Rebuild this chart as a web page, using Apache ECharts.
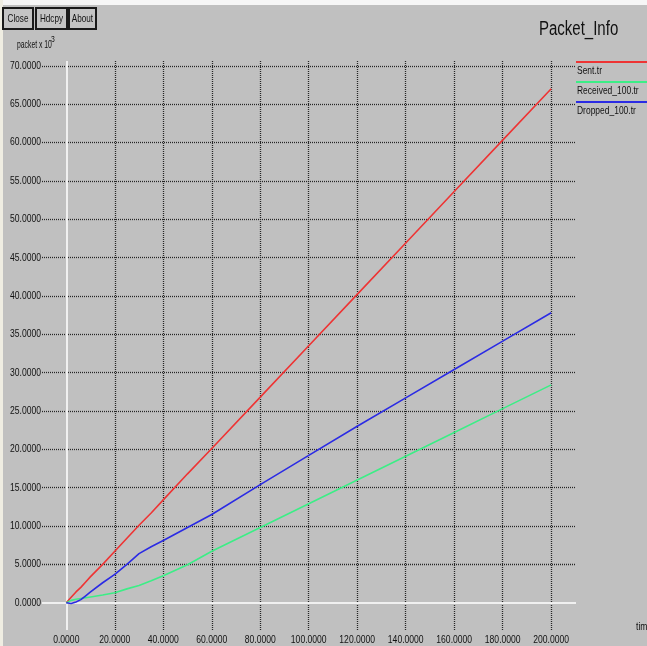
<!DOCTYPE html>
<html>
<head>
<meta charset="utf-8">
<title>Packet_Info</title>
<script src="https://cdn.jsdelivr.net/npm/echarts@6/dist/echarts.min.js"></script>
<style>
  html, body { margin: 0; padding: 0; background: #c0c0c0; }
  #chart { width: 647px; height: 646px; }
</style>
</head>
<body>
<div id="chart"></div>
<script>
// Simulation time (s) at which the packet counters were sampled
const times = [0, 2, 4, 6, 8, 10, 15, 20, 25, 30, 35, 40, 50, 60, 80, 100, 120, 140, 160, 180, 200];
// Packet counts, in thousands
const sentPackets     = [0, 0.7, 1.4, 2.0, 2.7, 3.4, 5.0, 6.7, 8.4, 10.1, 11.7, 13.4, 16.8, 20.1, 26.8, 33.5, 40.2, 46.9, 53.6, 60.3, 67.0];
const receivedPackets = [0, 0.3, 0.45, 0.55, 0.65, 0.75, 1.0, 1.3, 1.8, 2.25, 2.85, 3.5, 4.95, 6.7, 9.8, 12.9, 16.0, 19.1, 22.2, 25.3, 28.4];
const droppedPackets  = [0, -0.1, 0.1, 0.4, 0.9, 1.4, 2.6, 3.7, 5.0, 6.4, 7.3, 8.1, 9.8, 11.5, 15.4, 19.2, 23.0, 26.7, 30.4, 34.1, 37.8];

const seriesNames = ['Sent.tr', 'Received_100.tr', 'Dropped_100.tr'];
const seriesValues = [sentPackets, receivedPackets, droppedPackets];
const seriesColors = ['#ee3434', '#3cee86', '#2b2be4'];

const xTicks = [0, 20, 40, 60, 80, 100, 120, 140, 160, 180, 200];
const yTicks = [0, 5, 10, 15, 20, 25, 30, 35, 40, 45, 50, 55, 60, 65, 70];
const xAxisName = 'time';
const yAxisName = 'packet x 10';
const yAxisPower = '3';
const chartTitle = 'Packet_Info';
const buttonLabels = ['Close', 'Hdcpy', 'About'];

// Visible extent of the plotting area (gridlines run slightly past the data range)
const X_MIN = -10.02, X_MAX = 210.23;
const Y_MIN = -3.56, Y_MAX = 70.62;

// Narrow, X11-style lettering: a sans face squeezed horizontally
const FONT = "'Liberation Sans', Arial, sans-serif";
const SQUEEZE = 0.78;
const INK = '#111';

const chart = echarts.init(document.getElementById('chart'), null, { renderer: 'canvas' });

const dottedGrid = [];
yTicks.filter(v => v !== 0).forEach(v => dottedGrid.push({ yAxis: v }));
xTicks.filter(v => v !== 0).forEach(v => dottedGrid.push({ xAxis: v }));

const dataSeries = seriesNames.map((name, i) => ({
  name: name,
  type: 'line',
  data: times.map((t, k) => [t, seriesValues[i][k]]),
  showSymbol: false,
  symbol: 'none',
  smooth: false,
  z: 5,
  lineStyle: { color: seriesColors[i], width: 1.6 },
  itemStyle: { color: seriesColors[i] }
}));

const guideSeries = (z, lineStyle, data) => ({
  type: 'line', data: [[0, 0]], symbol: 'none', z: z,
  lineStyle: { opacity: 0 },
  silent: true,
  markLine: {
    silent: true, symbol: ['none', 'none'], animation: false,
    label: { show: false },
    emphasis: { disabled: true },
    lineStyle: lineStyle,
    data: data
  }
});

const hiddenAxis = (min, max) => ({
  type: 'value', min: min, max: max,
  axisLine: { show: false },
  axisTick: { show: false },
  splitLine: { show: false },
  axisLabel: { show: false }
});

chart.setOption({
  backgroundColor: '#c0c0c0',
  animation: false,
  grid: { left: 42, right: 71, top: 61, bottom: 16, outerBoundsMode: 'none' },
  xAxis: hiddenAxis(X_MIN, X_MAX),
  yAxis: hiddenAxis(Y_MIN, Y_MAX),
  series: [
    guideSeries(1, { type: [1, 1], color: '#262626', width: 1.3 }, dottedGrid),
    guideSeries(2, { type: 'solid', color: '#f0f0f0', width: 2 }, [{ yAxis: 0 }, { xAxis: 0 }])
  ].concat(dataSeries)
});

// Text drawn squeezed, anchored at (x, y)
function squeezedText(text, x, y, size, align, scale) {
  return {
    type: 'text', x: x, y: y, scaleX: scale || SQUEEZE, z: 10,
    style: { text: text, font: size + 'px ' + FONT, fill: INK, align: align || 'left', verticalAlign: 'middle' }
  };
}

const graphics = [
  { type: 'rect', shape: { x: 0, y: 0, width: 647, height: 5 }, style: { fill: '#f6f6f6' } },
  { type: 'rect', shape: { x: 0, y: 0, width: 3, height: 646 }, style: { fill: '#efede2' } },
  squeezedText(chartTitle, 539, 29, 20, 'left', 0.75),
  squeezedText(yAxisName, 17, 45, 10.5, 'left', 0.65),
  squeezedText(yAxisPower, 51, 40, 8.5, 'left', 0.8),
  squeezedText(xAxisName, 636, 627, 11)
];

// Control buttons along the top-left
const buttonBoxes = [[3, 30], [36, 31], [69, 27]];
buttonLabels.forEach((label, i) => {
  const [bx, bw] = buttonBoxes[i];
  graphics.push({
    type: 'rect', shape: { x: bx, y: 8, width: bw, height: 21 },
    style: { fill: '#c4c4c4', stroke: '#1a1a1a', lineWidth: 2 }
  });
  graphics.push(squeezedText(label, bx + bw / 2, 19, 11, 'center', 0.74));
});

// Legend: coloured rule above each file name
seriesNames.forEach((name, i) => {
  graphics.push({
    type: 'line',
    shape: { x1: 576, y1: 62 + 20 * i, x2: 647, y2: 62 + 20 * i },
    style: { stroke: seriesColors[i], lineWidth: 2 }
  });
  graphics.push(squeezedText(name, 577, 71 + 20 * i, 11, 'left', 0.77));
});

// Tick labels placed through the axis scales
xTicks.forEach(t => {
  const px = chart.convertToPixel({ xAxisIndex: 0 }, t);
  graphics.push(squeezedText(t.toFixed(4), px, 640, 11, 'center'));
});
yTicks.forEach(v => {
  const py = chart.convertToPixel({ yAxisIndex: 0 }, v);
  graphics.push(squeezedText(v.toFixed(4), 41, py, 11, 'right'));
});

chart.setOption({ graphic: graphics });
</script>
</body>
</html>
